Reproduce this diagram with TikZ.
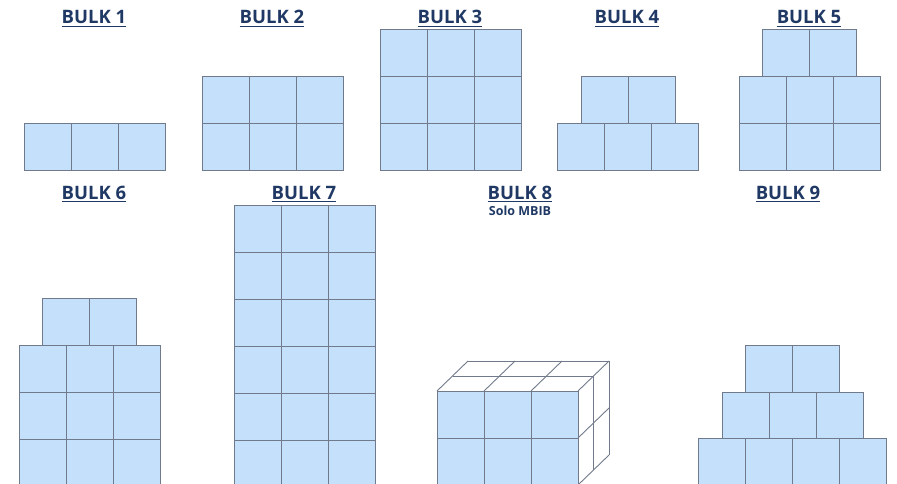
\documentclass[tikz,border=0pt]{standalone}
\usepackage{fontspec}
\setmainfont{Open Sans}
\usepackage{tikz}
\definecolor{cellblue}{RGB}{197,224,251}
\definecolor{cellline}{RGB}{112,122,138}
\definecolor{titleblue}{RGB}{31,56,100}
\tikzset{
  cell/.style={draw=cellline,line width=0.95pt,fill=cellblue},
  edge/.style={draw=cellline,line width=0.9pt},
  title/.style={font=\fontsize{18.5}{20}\selectfont\bfseries,text=titleblue,anchor=base,inner xsep=0pt},
  subtitle/.style={font=\fontsize{12.5}{14}\selectfont\bfseries,text=titleblue,anchor=base},
  ulline/.style={draw=titleblue,line width=1.6pt},
}

\begin{document}
\begin{tikzpicture}[x=1pt,y=-1pt]
  \path[use as bounding box] (0,0) rectangle (897,484);
  \clip (0,0) rectangle (897,484);

  % titles
  \foreach \n/\xx/\yy in {1/94/24, 2/272/24, 3/450/24, 4/627/24, 5/809/24,
                          6/94/199, 7/304/199, 8/520/199, 9/788/199}{
    \node[title] (t\n) at (\xx,\yy) {BULK \n};
    \draw[ulline] ([yshift=-2.6pt]t\n.base west) -- ([yshift=-2.6pt]t\n.base east);
  }
  \node[subtitle] (s8) at (520,215) {Solo MBIB};

  % rows of cells: left x / top y / number of cells
  \foreach \xa/\ya/\nc in {
    24/123/3,
    202/76/3, 202/123/3,
    380/29/3, 380/76/3, 380/123/3,
    581/76/2, 557/123/3,
    762/29/2, 739/76/3, 739/123/3,
    42/298/2, 19/345/3, 19/392/3, 19/439/3,
    234/205/3, 234/252/3, 234/299/3, 234/346/3, 234/393/3, 234/440/3,
    437/391/3, 437/438/3,
    745/345/2, 722/392/3, 698/438/4
  }{
    \foreach \i in {1,...,\nc}
      \draw[cell] ({\xa+(\i-1)*47},\ya) rectangle +(47,47);
  }

  % bulk 8: top and side faces
  \foreach \k in {0,1,2}
    \draw[edge] ({437+15.5*\k},{391-15*\k}) -- ({578+15.5*\k},{391-15*\k});
  \foreach \i in {0,...,3}
    \draw[edge] ({437+47*\i},391) -- +(31,-30);
  \foreach \k in {1,2}
    \draw[edge] ({578+15.5*\k},{391-15*\k}) -- +(0,94);
  \foreach \r in {1,2}
    \draw[edge] (578,{391+47*\r}) -- +(31,-30);
\end{tikzpicture}
\end{document}
